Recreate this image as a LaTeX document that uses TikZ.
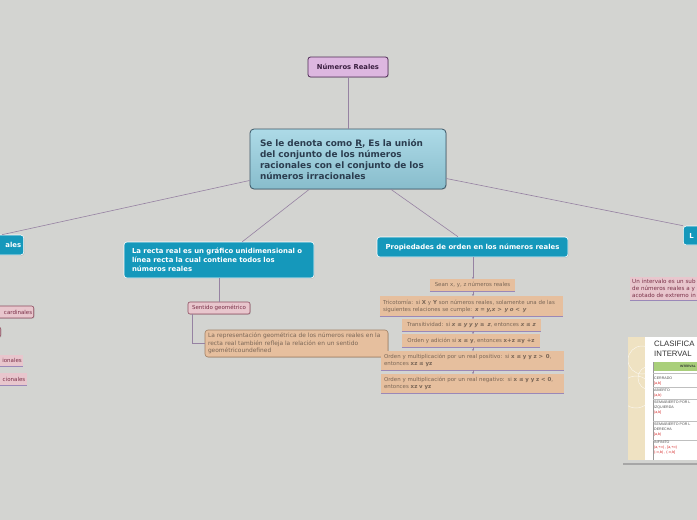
\documentclass[tikz,border=0pt]{standalone}
\usepackage{fontspec}
\setmainfont{DejaVu Sans}
\newfontfamily\arialf{Liberation Sans}
\usetikzlibrary{shadows,calc,arrows.meta}
\definecolor{bgc}{HTML}{D3D4D1}
\definecolor{connC}{HTML}{9682A2}
\definecolor{lavC}{HTML}{DDB7E0}
\definecolor{lavB}{HTML}{4E2A55}
\definecolor{lavT}{HTML}{3A1F40}
\definecolor{mainTop}{HTML}{ADDAE7}
\definecolor{mainBot}{HTML}{88BDCC}
\definecolor{mainB}{HTML}{3A5666}
\definecolor{mainT}{HTML}{2B3D4F}
\definecolor{blueC}{HTML}{1598BB}
\definecolor{pinkC}{HTML}{E8C6CD}
\definecolor{pinkB}{HTML}{8E4D60}
\definecolor{pinkT}{HTML}{7A3048}
\definecolor{tanC}{HTML}{E6BF9E}
\definecolor{tanB}{HTML}{A08064}
\definecolor{tanT}{HTML}{7A6656}
\definecolor{ulC}{HTML}{9A88B8}
\definecolor{beigeC}{HTML}{EFE2C2}
\definecolor{greenC}{HTML}{A9CF7A}
\definecolor{redT}{HTML}{D42020}
\begin{document}
\begin{tikzpicture}[x=1pt,y=-1pt,
  conn/.style={draw=connC, line width=0.6pt},
  shad/.style={drop shadow={opacity=0.25, shadow xshift=0.8pt, shadow yshift=-0.8pt}},
  titlebox/.style={draw=lavB, line width=0.8pt, fill=lavC, rounded corners=2.5pt, text=lavT,
    font=\fontsize{6.8}{8}\selectfont\bfseries, inner sep=0pt, shad},
  mainbox/.style={draw=mainB, line width=0.8pt, top color=mainTop, bottom color=mainBot,
    rounded corners=4pt, text=mainT, font=\fontsize{8.9}{11}\selectfont\bfseries,
    inner sep=0pt, align=left, shad},
  bluebox/.style={draw=white, line width=0.6pt, fill=blueC, rounded corners=3pt, text=white,
    font=\fontsize{6.9}{9}\selectfont\bfseries, inner sep=0pt, shad},
  pinkbox/.style={draw=pinkB, line width=0.6pt, fill=pinkC, rounded corners=2pt, text=pinkT,
    font=\fontsize{5.5}{6}\selectfont, inner sep=0pt, shad},
  pinkflat/.style={fill=pinkC, text=pinkT, font=\fontsize{5.5}{6.5}\selectfont, inner sep=0pt},
  tanbox/.style={draw=tanB, line width=0.6pt, fill=tanC, rounded corners=3pt, text=tanT,
    font=\fontsize{5.9}{7.6}\selectfont, inner sep=0pt, align=left, shad},
  tanrow/.style={fill=tanC, text=tanT, font=\fontsize{5.45}{7}\selectfont, inner sep=0pt},
  uline/.style={draw=ulC, line width=0.7pt},
  tip/.style={-{Stealth[length=2pt,width=2.2pt]}}
]
\useasboundingbox (0,0) rectangle (697,520);
\clip (0,0) rectangle (697,520);
\fill[bgc] (0,0) rectangle (697,520);

% ---------- nodes ----------
\node[titlebox, minimum width=80pt, minimum height=20pt] (title) at (348,67) {Números Reales};

\node[mainbox, minimum width=196pt, minimum height=60pt, text width=176pt] (main) at (348,159)
  {Se le denota como \underline{R}, Es la unión\\del conjunto de los números\\racionales con el conjunto de los\\números irracionales};

% left (cut) branch
\node[bluebox, anchor=east, minimum width=80pt, minimum height=20pt, text width=75pt, align=right]
  (leftB) at (24,245) {ales};
\node[pinkbox, anchor=east, minimum width=80pt, minimum height=12pt, text width=77pt, align=right]
  (lcard) at (34,312) {cardinales};
\node[pinkbox, anchor=east, minimum width=30pt, minimum height=10pt] (lsmall) at (1,332) {};
\node[pinkflat, anchor=east, minimum width=60pt, minimum height=11pt, text width=58pt, align=right]
  (lrac) at (23,360.5) {ionales};
\node[pinkflat, anchor=east, minimum width=60pt, minimum height=12pt, text width=57pt, align=right]
  (lirr) at (27,379) {cionales};

% recta real branch
\node[bluebox, minimum width=190pt, minimum height=36pt, text width=174pt, align=left] (recta) at (219,260)
  {La recta real es un gráfico unidimensional o\\línea recta la cual contiene todos los\\números reales};
\node[pinkbox, minimum width=62pt, minimum height=12pt] (sent) at (219,308) {Sentido geométrico};
\node[tanbox, minimum width=183pt, minimum height=27pt, text width=177pt] (rep) at (296.5,343.5)
  {La representación geométrica de los números reales en la\\recta real también refleja la relación en un sentido\\geométricoundefined};

% propiedades branch
\node[bluebox, minimum width=191pt, minimum height=20pt] (prop) at (472.5,247)
  {Propiedades de orden en los números reales};
\node[tanrow, minimum width=85pt, minimum height=12pt] (sean) at (472.5,285)
  {Sean x, y, z números reales};
\node[tanrow, minimum width=183pt, minimum height=20pt, text width=177pt, align=left] (trico) at (471.5,306)
  {Tricotomía: si \textbf{X} y \textbf{Y} son números reales, solamente una de las\\siguientes relaciones se cumple: \textbf{\textit{x = y,x >\, y o <\, y}}};
\node[tanrow, minimum width=139pt, minimum height=12pt] (trans) at (471.5,325)
  {Transitividad: si \textbf{\textit{x ≤ y y y ≥\, z}}, entonces \textbf{\textit{x ≤ z}}};
\node[tanrow, minimum width=138pt, minimum height=13pt] (adic) at (471,340.5)
  {Orden y adición si \textbf{x ≤ y}, entonces \textbf{x+z ≤y +z}};
\node[tanrow, minimum width=183pt, minimum height=19pt, text width=177pt, align=left] (pos) at (472.5,360.5)
  {Orden y multiplicación por un real positivo: si \textbf{x ≤ y y z >\, 0},\\entonces \textbf{xz ≤ yz}};
\node[tanrow, minimum width=183pt, minimum height=19pt, text width=177pt, align=left] (neg) at (472.5,383.5)
  {Orden y multiplicación por un real negativo: si \textbf{x ≤ y y z < 0},\\entonces \textbf{xz v yz}};

% right (cut) branch
\node[bluebox, anchor=west, minimum width=40pt, minimum height=19pt, text width=34pt, align=left,
  inner xsep=6pt] (Lnode) at (683,235.5) {L};
\node[pinkflat, anchor=west, minimum width=120pt, minimum height=23pt, text width=116pt, align=left,
  font=\fontsize{5.6}{6.6}\selectfont] (interv) at (630,288.5)
  {Un intervalo es un sub\\de números reales a y\\acotado de extremo in};

% ---------- underlines ----------
\foreach \n in {sean,trico,trans,adic,pos,neg,lrac,lirr,interv}
  \draw[uline] (\n.south west) -- (\n.south east);

% ---------- connectors ----------
\draw[conn] (title) -- (main);
\draw[conn] (main) -- ($(leftB.north east)+(-22,0)$);
\draw[conn] (main) -- (recta);
\draw[conn] (main) -- (prop);
\draw[conn] (main) -- (Lnode.north west);
\draw[conn] (recta) -- (sent);
\draw[conn] ($(sent.south west)+(5,0)$) |- (rep.west);
\draw[conn, tip] (473,257) -- (473,279);
\draw[conn, tip] (473,291) -- (473,296);
\draw[conn, tip] (473,316) -- (473,319);
\draw[conn, tip] (473,331) -- (473,334);
\draw[conn, tip] (473,347) -- (473,351);
\draw[conn, tip] (473,370) -- (473,374);

% ---------- embedded table picture ----------
\fill[black!35] (623,463) rectangle (697,465);
\fill[white] (628,337) rectangle (697,460);
\begin{scope}
  \clip (628,337) rectangle (645,460);
  \fill[beigeC] (628,337) rectangle (645,460);
  \draw[white!70!beigeC, line width=0.5pt] (642,360) circle (14);
  \draw[white!70!beigeC, line width=0.5pt] (650,378) circle (12);
  \draw[white!70!beigeC, line width=0.5pt] (636,392) circle (16);
\end{scope}
\node[anchor=north west, inner sep=0pt, align=left, text=black!80,
  font=\arialf\fontsize{7.8}{9.5}\selectfont] (ctitle) at (654,341) {CLASIFICA\\INTERVAL};
\fill[greenC] (653,362) rectangle (697,371);
\node[inner sep=0pt, font=\arialf\fontsize{3.2}{3}\selectfont\bfseries, text=black!80] (chead) at (688,366) {INTERVAL};
\draw[black!40, line width=0.3pt] (653,362) -- (653,460);
\foreach \yy in {373,387,399,421,440}
  \draw[black!25, line width=0.3pt] (653,\yy) -- (697,\yy);
\begin{scope}[every node/.style={anchor=north west, inner sep=0pt, align=left,
    font=\arialf\fontsize{3.6}{4.8}\selectfont, text=black!70}]
  \node (r1) at (654,377) {CERRADO\\\textcolor{redT}{[a,b]}};
  \node (r2) at (654,389) {ABIERTO\\\textcolor{redT}{(a,b)}};
  \node (r3) at (654,401) {SEMIABIERTO POR L\\IZQUIERDA\\\textcolor{redT}{(a,b]}};
  \node (r4) at (654,423) {SEMIABIERTO POR L\\DERECHA\\\textcolor{redT}{[a,b)}};
  \node (r5) at (654,441) {INFINITO\\\textcolor{redT}{(a,+∞) , [a,+∞)}\\\textcolor{redT}{(-∞,b) , (-∞,b]}};
\end{scope}
\end{tikzpicture}
\end{document}
